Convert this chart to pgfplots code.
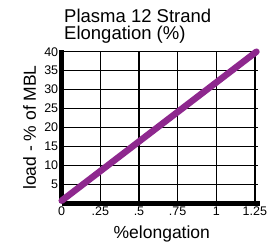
\documentclass[border=0pt]{standalone}
\usepackage{fontspec}
\setmainfont{Liberation Sans}
\usepackage{pgfplots}
\pgfplotsset{compat=1.18}
\definecolor{plasma}{RGB}{142,40,142}
\begin{document}
\begin{tikzpicture}
\useasboundingbox (0,0) rectangle (267pt,241pt);
\begin{axis}[
  at={(61.7pt,37.7pt)}, anchor=south west,
  scale only axis, width=196.3pt, height=151.6pt,
  xmin=0, xmax=1.27, ymin=0, ymax=40,
  axis x line=bottom, axis y line=left,
  axis line style={line width=4.5pt, -},
  x axis line style={shorten >=-2pt},
  y axis line style={shorten >=-2pt},
  xtick={0,0.25,0.5,0.75,1,1.25}, xticklabels={0,.25,.5,.75,1,1.25},
  ytick={5,10,...,40},
  grid=major, grid style={black, line width=1.2pt},
  major tick length=0pt,
  tick label style={font=\fontsize{12.5}{12.5}\selectfont},
  /pgf/number format/assume math mode=true,
  xlabel={\%elongation}, ylabel={load - \% of MBL},
  label style={font=\fontsize{17.5}{17.5}\selectfont},
  xlabel style={at={(axis description cs:0.51,-0.23)}, anchor=base},
  ylabel style={at={(axis description cs:-0.131,0.5)}, anchor=base},
  clip=false,
]
\addplot[plasma, line width=6.5pt, line cap=round] coordinates {(0,0.7) (1.26,40)};
\end{axis}
\node[anchor=base west, inner sep=0pt, font=\fontsize{18.5}{18.5}\selectfont] at (64pt,218pt) {Plasma 12 Strand};
\node[anchor=base west, inner sep=0pt, font=\fontsize{18.5}{18.5}\selectfont] at (64pt,201pt) {Elongation (\%)};
\end{tikzpicture}
\end{document}
